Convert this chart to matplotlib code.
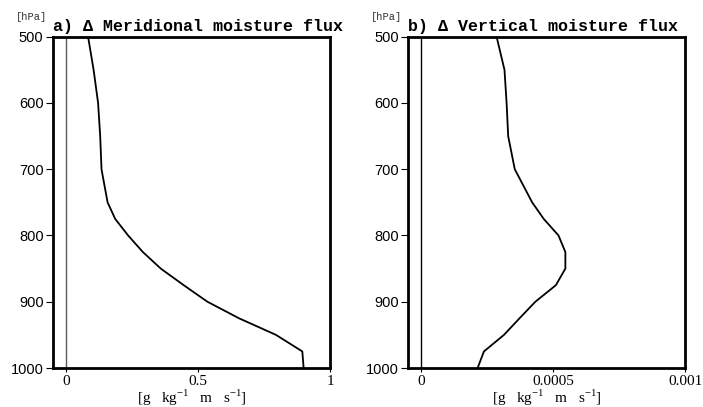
import matplotlib
matplotlib.use("Agg")
import matplotlib.pyplot as plt

# pressure levels [hPa]
levels = [500, 550, 600, 650, 700, 750, 775, 800, 825, 850, 875, 900, 925, 950, 975, 1000]

# a) change in meridional moisture flux
merid = [0.082, 0.103, 0.12, 0.128, 0.133, 0.156, 0.185, 0.234, 0.29, 0.358,
         0.445, 0.535, 0.655, 0.795, 0.895, 0.90]

# b) change in vertical moisture flux
vert = [0.000285, 0.000315, 0.000323, 0.000329, 0.000354, 0.00042, 0.000464, 0.00052,
        0.000546, 0.000546, 0.00051, 0.000432, 0.000372, 0.000313, 0.000237, 0.000213]

titles = ["a) \u0394 Meridional moisture flux", "b) \u0394 Vertical moisture flux"]
xticks_a = [0, 0.5, 1]
xticklabels_a = ["0", "0.5", "1"]
xticks_b = [0, 0.0005, 0.001]
xticklabels_b = ["0", "0.0005", "0.001"]
yticks = [500, 600, 700, 800, 900, 1000]

plt.rcParams["mathtext.fontset"] = "custom"
plt.rcParams["mathtext.rm"] = "Liberation Serif"

fig = plt.figure(figsize=(7.03, 4.07), dpi=100)
ax1 = fig.add_axes([0.0758, 0.0958, 0.3936, 0.814])
ax2 = fig.add_axes([0.5808, 0.0958, 0.3936, 0.814])

panels = [
    (ax1, merid, (-0.05, 1.0), xticks_a, xticklabels_a, titles[0], "0.35"),
    (ax2, vert, (-0.00005, 0.001), xticks_b, xticklabels_b, titles[1], "black"),
]

for ax, vals, xlim, xt, xtl, title, zcol in panels:
    ax.plot(vals, levels, color="black", lw=1.3)
    ax.axvline(0, color=zcol, lw=1.0)
    ax.set_xlim(*xlim)
    ax.set_ylim(1000, 500)
    ax.set_yticks(yticks)
    ax.set_yticklabels([str(v) for v in yticks], family="Liberation Sans", fontsize=10.5)
    ax.set_xticks(xt)
    ax.set_xticklabels(xtl, family="Liberation Serif", fontsize=11)
    ax.tick_params(axis="y", direction="out", length=5, width=0.8, pad=2)
    ax.tick_params(axis="x", direction="out", length=3, width=0.8, pad=2)
    for s in ax.spines.values():
        s.set_linewidth(2.0)
    ax.set_xlabel(r"[g   kg$^{-1}$   m   s$^{-1}$]", family="Liberation Serif",
                  fontsize=11, labelpad=0)
    ax.set_title(title, loc="left", family=["Liberation Mono", "DejaVu Sans Mono"],
                 fontweight="bold", fontsize=12, pad=4)
    ax.text(-0.135, 1.05, "[hPa]", transform=ax.transAxes, family="Liberation Mono",
            fontsize=7.5, color="0.2")

fig.savefig("out.png", dpi=100)
